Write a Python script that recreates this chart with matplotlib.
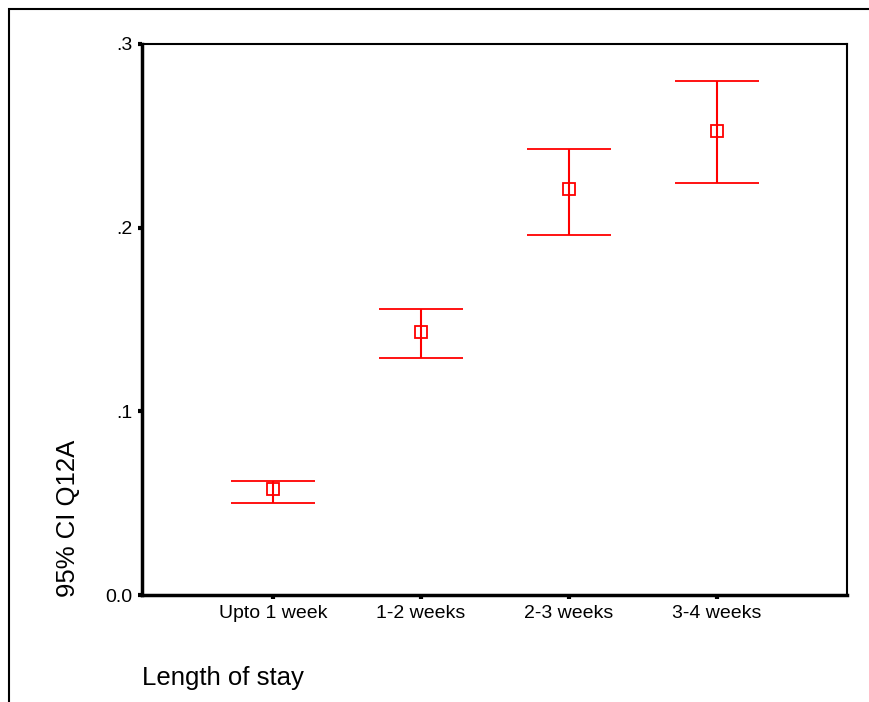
import numpy as np
import matplotlib.pyplot as plt
from matplotlib.patches import Rectangle

plt.rcParams['font.family'] = ['Liberation Sans', 'DejaVu Sans']

# Dados (média e IC 95%)
categorias = ["Upto 1 week", "1-2 weeks", "2-3 weeks", "3-4 weeks"]
media = [0.0575, 0.1430, 0.2210, 0.2526]
ic_inferior = [0.0501, 0.1292, 0.1958, 0.2241]
ic_superior = [0.0619, 0.1557, 0.2426, 0.2796]
ticks_y = [0.0, 0.1, 0.2, 0.3]
rotulos_y = ["0.0", ".1", ".2", ".3"]

W, H = 870, 702
fig = plt.figure(figsize=(W / 100, H / 100), dpi=100)
ax = fig.add_axes([142 / W, 1 - 595 / H, (847 - 142) / W, (595 - 44) / H])

# Moldura externa (estilo SPSS)
fig.patches.append(Rectangle((9 / W, -0.1), 1.2, 1 - 9 / H + 0.1, transform=fig.transFigure,
                             fill=False, edgecolor='black', linewidth=1.5, clip_on=False))

x = np.arange(1, len(categorias) + 1)
media = np.array(media)
yerr = [media - np.array(ic_inferior), np.array(ic_superior) - media]

ax.errorbar(x, media, yerr=yerr, fmt='s', color='#ff0000', ecolor='#ff0000',
            mfc='none', mec='#ff0000', ms=9, mew=1.3, elinewidth=1.5,
            capsize=30, capthick=1.5)

ax.set_xlim(0.115, 4.88)
ax.set_ylim(0, 0.3)
ax.set_xticks(x)
ax.set_xticklabels(categorias, fontsize=14)
ax.set_yticks(ticks_y)
ax.set_yticklabels(rotulos_y, fontsize=14)
ax.tick_params(direction='out', length=3, width=3, color='black', pad=4)

for lado in ['top', 'right']:
    ax.spines[lado].set_linewidth(1.5)
for lado in ['left', 'bottom']:
    ax.spines[lado].set_linewidth(2.5)

# Rótulos dos eixos
fig.text(142 / W, 1 - 678 / H, "Length of stay", fontsize=18.5, ha='left', va='center')
fig.text(68 / W, 1 - 597 / H, "95% CI Q12A", fontsize=18.5, rotation=90, ha='center', va='bottom')

plt.savefig("out.png", dpi=100)
